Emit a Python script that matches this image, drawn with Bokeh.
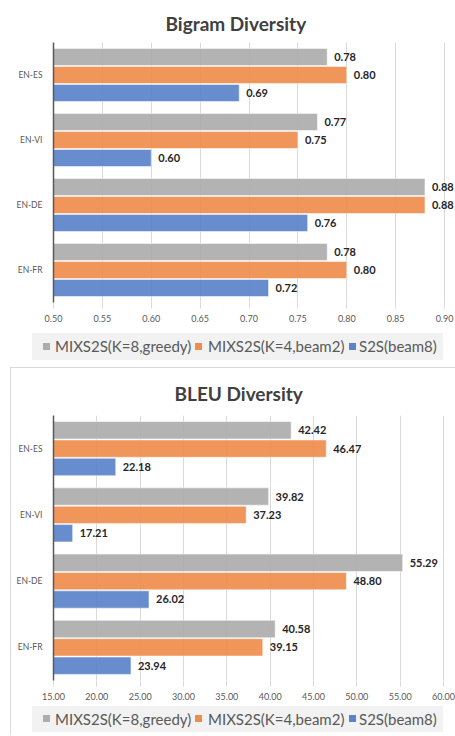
from bokeh.plotting import figure
from bokeh.models import (FactorRange, Range1d, ColumnDataSource, FixedTicker,
                          NumeralTickFormatter, Div)
from bokeh.transform import dodge
from bokeh.layouts import column
from bokeh.embed import file_html
from bokeh.resources import INLINE
from bokeh.core.properties import value

categories = ["EN-ES", "EN-VI", "EN-DE", "EN-FR"]
series_names = ["MIXS2S(K=8,greedy)", "MIXS2S(K=4,beam2)", "S2S(beam8)"]
colors = ["#ADADAD", "#EF8D4C", "#5B83CB"]

bigram_greedy = [0.78, 0.77, 0.88, 0.78]
bigram_beam2 = [0.80, 0.75, 0.88, 0.80]
bigram_s2s = [0.69, 0.60, 0.76, 0.72]
bigram_ticks = [0.50, 0.55, 0.60, 0.65, 0.70, 0.75, 0.80, 0.85, 0.90]

bleu_greedy = [42.42, 39.82, 55.29, 40.58]
bleu_beam2 = [46.47, 37.23, 48.80, 39.15]
bleu_s2s = [22.18, 17.21, 26.02, 23.94]
bleu_ticks = [15, 20, 25, 30, 35, 40, 45, 50, 55, 60]

FONT = "Lato"
LINE = "#D9D9D9"
W = 455


def make_chart(title, series, ticks, x_end, height, left, top, bottom, title_off,
               standoff, framed=False):
    x0 = ticks[0]
    p = figure(width=W, height=height, output_backend="svg", toolbar_location=None,
               y_range=FactorRange(factors=categories[::-1], range_padding=0),
               x_range=Range1d(x0, x_end),
               min_border_left=left, min_border_right=1, min_border_top=top,
               min_border_bottom=bottom)
    if framed:
        p.border_fill_color = None
        p.styles = {
            "background-image": "linear-gradient(%s,%s), linear-gradient(%s,%s)"
                                % (LINE, LINE, LINE, LINE),
            "background-size": "1px 100%, 100% 1px",
            "background-position": "10px 0px, 10px 0px",
            "background-repeat": "no-repeat",
        }
    p.outline_line_color = None
    p.title.text = title
    p.title.align = "left"
    p.title.offset = title_off
    p.title.text_font = FONT
    p.title.text_font_size = "19px"
    p.title.text_font_style = "bold"
    p.title.text_color = "#404040"
    p.title.standoff = standoff

    p.ygrid.grid_line_color = None
    p.xgrid.grid_line_color = LINE
    p.xgrid.grid_line_width = 1
    p.xaxis.ticker = FixedTicker(ticks=ticks)
    p.xaxis.formatter = NumeralTickFormatter(format="0.00")
    p.xaxis.axis_line_color = None
    p.xaxis.major_tick_line_color = LINE
    p.xaxis.major_tick_out = 6
    p.xaxis.major_tick_in = 0
    p.xaxis.minor_tick_line_color = None
    p.xaxis.major_label_text_font = FONT
    p.xaxis.major_label_text_font_size = "9px"
    p.xaxis.major_label_text_color = "#595959"
    p.xaxis.major_label_standoff = 6

    p.yaxis.axis_line_color = "#595959"
    p.yaxis.axis_line_width = 1.5
    p.yaxis.major_tick_line_color = None
    p.yaxis.major_tick_out = 0
    p.yaxis.minor_tick_line_color = None
    p.yaxis.major_label_text_font = FONT
    p.yaxis.major_label_text_font_size = "8.5px"
    p.yaxis.major_label_text_color = "#595959"
    p.yaxis.major_label_standoff = 11

    offsets = [0.277, 0.0, -0.277]
    for vals, col, off in zip(series, colors, offsets):
        src = ColumnDataSource(dict(cat=categories, val=vals,
                                    lab=["%.2f" % v for v in vals]))
        p.hbar(y=dodge("cat", off, range=p.y_range), right="val", left=x0,
               height=0.262, source=src, fill_color=col, fill_alpha=0.92,
               line_color="white", line_alpha=0.5, line_width=1)
        p.text(x="val", y=dodge("cat", off, range=p.y_range), text="lab", source=src,
               x_offset=7, text_baseline="middle", text_align="left",
               text_font=value(FONT), text_font_style="bold", text_font_size="11px",
               text_color="#262626")
    return p


# legend strip layout (CSS pixels)
legend_marker_x = [43, 195, 349]
legend_text_x = [55, 208, 359]


def make_legend(height, box_top, box_h, framed=False):
    parts = []
    if framed:
        parts.append('<div style="position:absolute;left:10px;top:0px;width:1px;'
                     'height:%dpx;background:%s"></div>' % (height, LINE))
    parts.append('<div style="position:absolute;left:32px;top:%dpx;width:411px;'
                 'height:%dpx;background:#F2F2F2"></div>' % (box_top, box_h))
    for name, col, mx, tx in zip(series_names, colors, legend_marker_x, legend_text_x):
        parts.append(
            '<span style="position:absolute;left:%dpx;top:%dpx;width:7px;height:7px;'
            'background:%s"></span>' % (mx, box_top + (box_h - 7) // 2, col))
        parts.append(
            '<span style="position:absolute;left:%dpx;top:%dpx;height:%dpx;'
            'line-height:%dpx;white-space:nowrap">%s</span>'
            % (tx, box_top, box_h, box_h, name))
    html = ('<div style="position:relative;width:%dpx;height:%dpx;font-family:Lato;'
            'font-size:15px;color:#595959">%s</div>' % (W, height, "".join(parts)))
    return Div(text=html, width=W, height=height, margin=0)


p1 = make_chart("Bigram Diversity", [bigram_greedy, bigram_beam2, bigram_s2s],
                bigram_ticks, 0.9102, 331, 52, 42, 29, 112, 16)
l1 = make_legend(36, 2, 27)
p2 = make_chart("BLEU Diversity", [bleu_greedy, bleu_beam2, bleu_s2s],
                bleu_ticks, 61.27, 336, 53, 48, 23, 121, 22, framed=True)
l2 = make_legend(32, 3, 26, framed=True)

layout = column(p1, l1, p2, l2, spacing=0)
open("out.html", "w").write(file_html(layout, INLINE))
